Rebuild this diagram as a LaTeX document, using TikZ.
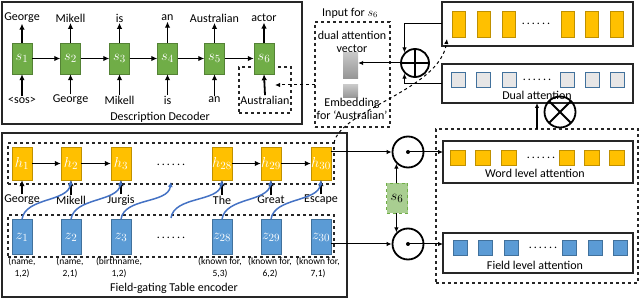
\documentclass[tikz,border=0pt]{standalone}
\usepackage{fontspec}
\setmainfont{Carlito}
\usepackage{tikz}
\usetikzlibrary{arrows.meta, positioning, calc}
\definecolor{figgreen}{RGB}{112,173,71}
\definecolor{figgreendk}{RGB}{84,130,53}
\definecolor{figorange}{RGB}{255,192,0}
\definecolor{figorangedk}{RGB}{191,144,0}
\definecolor{figblue}{RGB}{91,155,213}
\definecolor{figbluedk}{RGB}{65,113,156}
\definecolor{figcurve}{RGB}{68,114,196}
\definecolor{figgray}{RGB}{231,230,230}

\begin{document}
\begin{tikzpicture}[
      x=1pt, y=-1pt,
      txt/.style={inner sep=0.5pt, font=\fontsize{12}{13}\selectfont},
      small/.style={inner sep=0pt, align=center, font=\fontsize{9.5}{12}\selectfont},
      frame/.style={draw=black!85, line width=1.1pt, inner sep=0pt, outer sep=0pt},
      dbox/.style={draw=black!85, dashed, line width=1.1pt, inner sep=0pt, outer sep=0pt},
      scell/.style={draw=figgreendk, fill=figgreen, text=white, minimum width=20pt, minimum height=31pt, inner sep=0pt, font=\fontsize{15}{17}\selectfont},
      hcell/.style={draw=figorangedk, fill=figorange, text=white, minimum width=20pt, minimum height=33pt, inner sep=0pt, font=\fontsize{15}{17}\selectfont},
      zcell/.style={draw=figbluedk, fill=figblue, text=white, minimum width=20pt, minimum height=35pt, inner sep=0pt, font=\fontsize{15}{17}\selectfont},
      vbar/.style={draw=figorangedk, fill=figorange, minimum width=13pt, minimum height=26pt, inner sep=0pt},
      dsq/.style={draw=figbluedk, fill=figgray, minimum width=14pt, minimum height=15pt, inner sep=0pt},
      wsq/.style={draw=figorangedk, fill=figorange, minimum size=15pt, inner sep=0pt},
      fsq/.style={draw=figbluedk, fill=figblue, minimum width=14pt, minimum height=15pt, inner sep=0pt},
      grayvec/.style={top color=black!22, bottom color=black!42, minimum width=15pt, inner sep=0pt},
      arr/.style={-{Latex[length=6pt,width=5.5pt]}, line width=1.8pt},
      thinarr/.style={-{Latex[length=5pt,width=4.5pt]}, line width=1pt},
      gate/.style={-{Latex[length=5pt,width=5pt]}, line width=1.5pt, draw=figcurve},
      op/.style={circle, draw, line width=1.8pt, inner sep=0pt},
      oplus/.style={op, path picture={\draw[line width=1.8pt] (path picture bounding box.north) -- (path picture bounding box.south) (path picture bounding box.west) -- (path picture bounding box.east);}},
      otimes/.style={op, path picture={\draw[line width=1.8pt] (path picture bounding box.north west) -- (path picture bounding box.south east) (path picture bounding box.north east) -- (path picture bounding box.south west);}},
      odot/.style={op, path picture={\fill (path picture bounding box.center) circle (2pt);}}
    ]
      \def\sixdots{.\,.\,.\,.\,.\,.}
      \useasboundingbox (0,0) rectangle (640,299);

      % description decoder
      \node[frame, minimum width=300pt, minimum height=122pt] (dec) at (152,63) {};
      \node[dbox, minimum width=52pt, minimum height=46pt] (ausbox) at (265,90) {};
      \node[scell] (s1) at (22,58.5) {$s_1$};
      \node[scell] (s2) at (70.5,58.5) {$s_2$};
      \node[scell] (s3) at (119.5,58.5) {$s_3$};
      \node[scell] (s4) at (167.5,58.5) {$s_4$};
      \node[scell] (s5) at (214.5,58.5) {$s_5$};
      \node[scell] (s6) at (264,58.5) {$s_6$};
      \node[txt] (t1) at (22,18) {George};
      \node[txt] (t2) at (70.5,18) {Mikell};
      \node[txt] (t3) at (119.5,18) {is};
      \node[txt] (t4) at (167.5,18) {an};
      \node[txt] (t5) at (214.5,18) {Australian};
      \node[txt] (t6) at (264,18) {actor};
      \node[txt] (b1) at (22,100) {\textless sos\textgreater};
      \node[txt] (b2) at (70.5,100) {George};
      \node[txt] (b3) at (119.5,100) {Mikell};
      \node[txt] (b4) at (167.5,100) {is};
      \node[txt] (b5) at (214.5,100) {an};
      \node[txt] (b6) at (265,100) {Australian};
      \node[txt] (declbl) at (160,117) {Description Decoder};
      \draw[arr] (s1) -- (s2);
      \draw[arr] (s2) -- (s3);
      \draw[arr] (s3) -- (s4);
      \draw[arr] (s4) -- (s5);
      \draw[arr] (s5) -- (s6);
      \draw[arr] (s1.north) -- (t1.south);
      \draw[arr] (s2.north) -- (t2.south);
      \draw[arr] (s3.north) -- (t3.south);
      \draw[arr] (s4.north) -- (t4.south);
      \draw[arr] (s5.north) -- (t5.south);
      \draw[arr] (s6.north) -- (t6.south);
      \draw[arr] (b1.north) -- (s1.south);
      \draw[arr] (b2.north) -- (s2.south);
      \draw[arr] (b3.north) -- (s3.south);
      \draw[arr] (b4.north) -- (s4.south);
      \draw[arr] (b5.north) -- (s5.south);
      \draw[arr] (b6.north) -- (s6.south);

      % input for s6
      \node[dbox, minimum width=75pt, minimum height=105pt] (inbox) at (352.5,74.5) {};
      \node[txt] (inlbl) at (350,13) {Input for $s_6$};
      \node[txt, align=center] (davlbl) at (352,41.5) {dual attention\\vector};
      \node[grayvec, minimum height=26pt] (dav) at (350.5,66) {};
      \node[grayvec, minimum height=13pt] (emb) at (350.5,91.5) {};
      \node[txt, align=center] (emblbl) at (352,108.5) {Embedding\\for `Australian'};
      \coordinate (ausin) at (275,85);
      \draw[thinarr, dashed] (ausin -| inbox.west) -- (ausin);

      % dual attention vector
      \node[frame, minimum width=191pt, minimum height=44pt] (wvec) at (537.5,24) {};
      \node[vbar] (v1) at (458.5,24) {};
      \node[vbar] (v2) at (483.5,24) {};
      \node[vbar] (v3) at (508.5,24) {};
      \node[vbar] (v4) at (567.5,24) {};
      \node[vbar] (v5) at (592,24) {};
      \node[vbar] (v6) at (616.5,24) {};
      \node[txt] (vdots) at (536,24) {\sixdots};
      \node[frame, minimum width=191pt, minimum height=39pt] (dual) at (537.5,83.5) {};
      \node[dsq] (d1) at (458,79.5) {};
      \node[dsq] (d2) at (483.5,79.5) {};
      \node[dsq] (d3) at (509,79.5) {};
      \node[dsq] (d4) at (567,79.5) {};
      \node[dsq] (d5) at (592,79.5) {};
      \node[dsq] (d6) at (617,79.5) {};
      \node[txt] (ddots) at (537,80) {\sixdots};
      \node[txt] (duallbl) at (537,95) {Dual attention};
      \node[oplus, minimum size=28pt] (plus) at (415,63) {};
      \node[otimes, minimum size=31pt] (times) at (560,112) {};
      \draw[thinarr] (wvec.west) -| (plus.north west);
      \draw[thinarr] (dual.west) -| (plus.south west);
      \draw[thinarr] (plus.west) -- (plus.west -| dav.east);

      % word and field level attention
      \node[dbox, minimum width=202pt, minimum height=154pt] (attbox) at (537,206) {};
      \node[frame, minimum width=190pt, minimum height=42pt] (wordatt) at (538,162) {};
      \node[wsq] (w1) at (458,157.5) {};
      \node[wsq] (w2) at (483,157.5) {};
      \node[wsq] (w3) at (509,157.5) {};
      \node[wsq] (w4) at (567,157.5) {};
      \node[wsq] (w5) at (592,157.5) {};
      \node[wsq] (w6) at (617,157.5) {};
      \node[txt] (wdots) at (541,158) {\sixdots};
      \node[txt] (wordlbl) at (535,173) {Word level attention};
      \node[frame, minimum width=190pt, minimum height=40pt] (fieldatt) at (538,253) {};
      \node[fsq] (f1) at (460,247.5) {};
      \node[fsq] (f2) at (485,247.5) {};
      \node[fsq] (f3) at (511,247.5) {};
      \node[fsq] (f4) at (569,247.5) {};
      \node[fsq] (f5) at (595,247.5) {};
      \node[fsq] (f6) at (620,247.5) {};
      \node[txt] (fdots) at (543,248) {\sixdots};
      \node[txt] (fieldlbl) at (535,265) {Field level attention};
      \coordinate (attx) at (537,0);
      \draw[thinarr, line width=1.3pt] (attx |- attbox.north) -- (attx |- dual.south);
      \node[odot, minimum size=31pt] (dotw) at (408,152) {};
      \node[odot, minimum size=31pt] (dotf) at (408,244) {};
      \node[draw=figgreen, dashed, fill=figgreen!60, minimum width=21pt, minimum height=30pt, inner sep=0pt, font=\fontsize{15}{17}\selectfont] (sq) at (397,198) {$s_6$};
      \draw[thinarr] (dotw.south west |- sq.north) -- (dotw.south west);
      \draw[thinarr] (dotf.north west |- sq.south) -- (dotf.north west);
      \draw[thinarr] (dotw.center) -- (dotw -| wordatt.west);
      \draw[thinarr] (dotf.center) -- (dotf -| fieldatt.west);

      % field-gating table encoder
      \node[frame, minimum width=345pt, minimum height=164pt] (enc) at (174.5,215) {};
      \node[dbox, minimum width=326pt, minimum height=41pt] (hrow) at (171,163.5) {};
      \node[dbox, minimum width=326pt, minimum height=42pt] (zrow) at (171,236) {};
      \node[hcell] (h1) at (22,163.5) {$h_1$};
      \node[hcell] (h2) at (71,163.5) {$h_2$};
      \node[hcell] (h3) at (121,163.5) {$h_3$};
      \node[hcell] (h28) at (222,163.5) {$h_{28}$};
      \node[hcell] (h29) at (271,163.5) {$h_{29}$};
      \node[hcell] (h30) at (321,163.5) {$h_{30}$};
      \node[txt] (hdots) at (171,165) {\sixdots};
      \node[zcell] (z1) at (22,237) {$z_1$};
      \node[zcell] (z2) at (71,237) {$z_2$};
      \node[zcell] (z3) at (121,237) {$z_3$};
      \node[zcell] (z28) at (222,237) {$z_{28}$};
      \node[zcell] (z29) at (271,237) {$z_{29}$};
      \node[zcell] (z30) at (321,237) {$z_{30}$};
      \node[txt] (zdots) at (171,238) {\sixdots};
      \node[txt] (x1) at (22,200) {George};
      \node[txt] (x2) at (71,200) {Mikell};
      \node[txt] (x3) at (121,200) {Jurgis};
      \node[txt] (x4) at (222,200) {The};
      \node[txt] (x5) at (271,200) {Great};
      \node[txt] (x6) at (321,200) {Escape};
      \node[small] (k1) at (22,268) {(name,\\1,2)};
      \node[small] (k2) at (70,268) {(name,\\2,1)};
      \node[small] (k3) at (119,268) {(birthname,\\1,2)};
      \node[small] (k4) at (220,268) {(known for,\\5,3)};
      \node[small] (k5) at (270,268) {(known for,\\6,2)};
      \node[small] (k6) at (318,268) {(known for,\\7,1)};
      \node[txt] (enclbl) at (174,288) {Field-gating Table encoder};
      \draw[arr] (h1) -- (h2);
      \draw[arr] (h2) -- (h3);
      \draw[arr] (h28) -- (h29);
      \draw[arr] (h29) -- (h30);
      \draw[arr] (x1.north) -- (h1.south);
      \draw[arr] (x2.north) -- (h2.south);
      \draw[arr] (x3.north) -- (h3.south);
      \draw[arr] (x4.north) -- (h28.south);
      \draw[arr] (x5.north) -- (h29.south);
      \draw[arr] (x6.north) -- (h30.south);
      \coordinate (hgap) at (171,182);
      \coordinate (zgap) at (171,218);
      \draw[gate] (z1.north) .. controls +(3,-22) and +(-3,22) .. (h2.south);
      \draw[gate] (z2.north) .. controls +(3,-22) and +(-3,22) .. (h3.south);
      \draw[gate] (z3.north) .. controls +(3,-22) and +(-3,22) .. (hgap);
      \draw[gate] (zgap) .. controls +(3,-22) and +(-3,22) .. (h28.south);
      \draw[gate] (z28.north) .. controls +(3,-22) and +(-3,22) .. (h29.south);
      \draw[gate] (z29.north) .. controls +(3,-22) and +(-3,22) .. (h30.south);
      \draw[thinarr] (h30.east |- dotw.west) -- (dotw.west);
      \draw[thinarr] (z30.east |- dotf.west) -- (dotf.west);
      \draw[thinarr, dashed] (hrow.north east) .. controls (340,110) and (440,90) .. ($(wvec.south west)+(5,-7)$);
    \end{tikzpicture}
\end{document}
